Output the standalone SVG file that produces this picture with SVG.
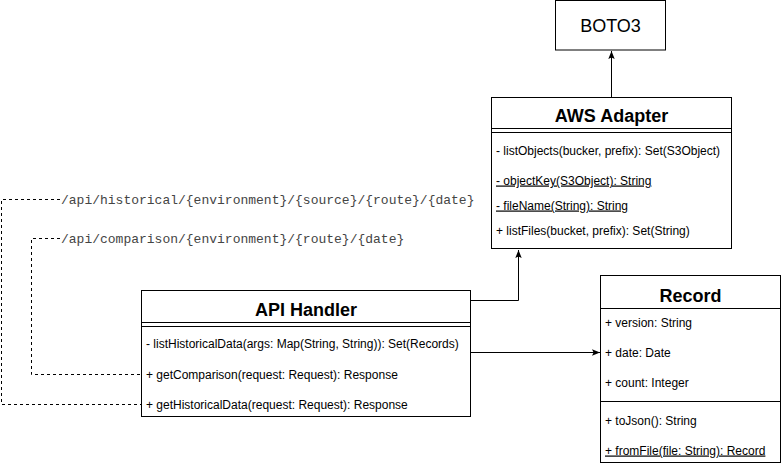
<svg xmlns="http://www.w3.org/2000/svg" width="782" height="466" viewBox="0 0 782 466">
<style>
.box{fill:#fff;stroke:#000;stroke-width:1}
.ln{fill:none;stroke:#000;stroke-width:1}
.dash{fill:none;stroke:#000;stroke-width:1;stroke-dasharray:3,3}
.title{font-family:"Liberation Sans",Arial,sans-serif;font-size:18px;font-weight:bold;text-anchor:middle;fill:#000}
.big{font-family:"Liberation Sans",Arial,sans-serif;font-size:18px;text-anchor:middle;fill:#000}
.item{font-family:"Liberation Sans",Arial,sans-serif;font-size:12px;fill:#000}
.u{text-decoration:underline}
.mono{font-family:"Liberation Mono","Courier New",monospace;font-size:13px;fill:#444}
</style>
<defs>
<marker id="arr" viewBox="0 0 10 10" refX="10" refY="5" markerWidth="8" markerHeight="8" markerUnits="userSpaceOnUse" orient="auto">
<path d="M0,1 L10,5 L0,9 L2,5 Z" fill="#000"/>
</marker>
</defs>
<g id="connectors">
<path class="ln" d="M611.5,97 V51" marker-end="url(#arr)"/>
<path class="ln" d="M470,300.5 H518.5 V250" marker-end="url(#arr)"/>
<path class="ln" d="M470,352.5 H600" marker-end="url(#arr)"/>
<path class="dash" d="M60,199.5 H1.5 V404.5 H141"/>
<path class="dash" d="M60,238.5 H31.5 V374.5 H141"/>
<text class="mono" x="61" y="203.5">/api/historical/{environment}/{source}/{route}/{date}</text>
<text class="mono" x="61" y="242.5">/api/comparison/{environment}/{route}/{date}</text>
</g>
<g id="boto3">
<rect class="box" x="555.5" y="0.5" width="110" height="49.5"/>
<text class="big" x="610.5" y="32">BOTO3</text>
</g>
<g id="aws-adapter">
<rect class="box" x="491.5" y="97.5" width="240" height="151"/>
<line class="ln" x1="491.5" y1="128.5" x2="731.5" y2="128.5"/>
<line class="ln" x1="491.5" y1="132.5" x2="731.5" y2="132.5"/>
<text class="title" x="611.5" y="121.5">AWS Adapter</text>
<text class="item" x="496" y="154.5">- listObjects(bucker, prefix): Set(S3Object)</text>
<text class="item u" x="496" y="184.5">- objectKey(S3Object): String</text>
<text class="item u" x="496" y="209.5">- fileName(String): String</text>
<text class="item" x="496" y="234.5">+ listFiles(bucket, prefix): Set(String)</text>
</g>
<g id="api-handler">
<rect class="box" x="141.5" y="290.5" width="329" height="126"/>
<line class="ln" x1="141.5" y1="322.5" x2="470.5" y2="322.5"/>
<line class="ln" x1="141.5" y1="326.5" x2="470.5" y2="326.5"/>
<text class="title" x="306" y="315.5">API Handler</text>
<text class="item" x="146" y="347.5">- listHistoricalData(args: Map(String, String)): Set(Records)</text>
<text class="item" x="146" y="378.5">+ getComparison(request: Request): Response</text>
<text class="item" x="146" y="408.5">+ getHistoricalData(request: Request): Response</text>
</g>
<g id="record">
<rect class="box" x="600.5" y="275.5" width="180" height="187"/>
<line class="ln" x1="600.5" y1="308.5" x2="780.5" y2="308.5"/>
<line class="ln" x1="600.5" y1="401.5" x2="780.5" y2="401.5"/>
<text class="title" x="690.5" y="301.5">Record</text>
<text class="item" x="605" y="326.5">+ version: String</text>
<text class="item" x="605" y="356.5">+ date: Date</text>
<text class="item" x="605" y="386.5">+ count: Integer</text>
<text class="item" x="605" y="424.5">+ toJson(): String</text>
<text class="item u" x="605" y="454.5">+ fromFile(file: String): Record</text>
</g>
</svg>
